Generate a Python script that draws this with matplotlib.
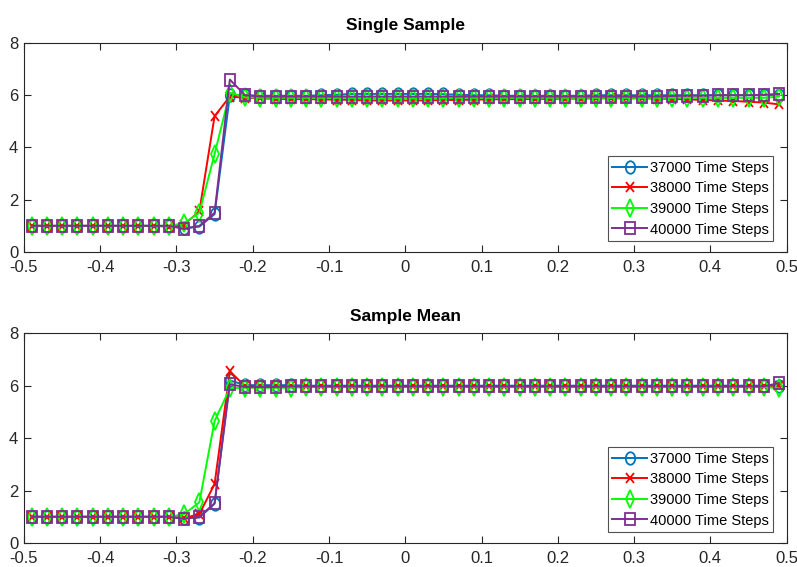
import numpy as np
import matplotlib
matplotlib.use("Agg")
import matplotlib.pyplot as plt
from matplotlib.markers import MarkerStyle
from matplotlib.transforms import Affine2D

plt.rcParams['font.family'] = ['Liberation Sans Narrow', 'Liberation Sans', 'DejaVu Sans']

x = [round(-0.49 + 0.02 * i, 2) for i in range(50)]

labels = ["37000 Time Steps", "38000 Time Steps", "39000 Time Steps", "40000 Time Steps"]
colors = ["#0072BD", "#FF0000", "#00FF00", "#7E2F8E"]
markers = ["o", "x", "d", "s"]

# Single sample
ss_37000 = [1.0]*10 + [0.92, 0.97, 1.45, 6.0, 6.0, 5.98, 5.98, 5.98, 5.98, 6.0,
            6.02, 6.05, 6.05, 6.05, 6.05, 6.05, 6.05, 6.04, 6.02, 6.0,
            6.0, 5.98, 5.98, 5.98, 5.98, 5.98, 5.98, 6.0, 6.0, 6.0,
            6.0, 6.0, 6.0, 6.0, 6.0, 6.0, 6.0, 6.0, 6.0, 6.02]
ss_38000 = [1.0]*9 + [0.97, 1.05, 1.55, 5.2, 5.95, 5.9, 5.88, 5.86, 5.85, 5.85, 5.84,
            5.83, 5.82, 5.8, 5.8, 5.8, 5.8, 5.8, 5.82, 5.82, 5.83,
            5.84, 5.85, 5.85, 5.86, 5.86, 5.87, 5.87, 5.88, 5.88, 5.88,
            5.88, 5.87, 5.86, 5.84, 5.82, 5.8, 5.78, 5.75, 5.72, 5.65]
ss_39000 = [1.0]*10 + [1.1, 1.5, 3.75, 6.1, 5.92, 5.9, 5.9, 5.9, 5.9, 5.9,
            5.9, 5.9, 5.88, 5.88, 5.88, 5.88, 5.88, 5.88, 5.9, 5.9,
            5.9, 5.9, 5.9, 5.9, 5.9, 5.9, 5.9, 5.9, 5.9, 5.9,
            5.9, 5.9, 5.9, 5.9, 5.9, 5.9, 5.9, 5.9, 5.9, 5.95]
ss_40000 = [1.0]*10 + [0.88, 1.0, 1.5, 6.6, 6.0, 5.95, 5.95, 5.95, 5.95, 5.95,
            5.95, 5.95, 5.95, 5.95, 5.95, 5.95, 5.95, 5.95, 5.95, 5.95,
            5.95, 5.95, 5.95, 5.95, 5.95, 5.95, 5.95, 5.95, 5.95, 5.95,
            5.95, 5.95, 5.97, 5.98, 5.98, 6.0, 6.0, 6.0, 6.02, 6.05]

# Sample mean
sm_37000 = [1.0]*10 + [0.95, 0.97, 1.5, 6.2, 6.02, 6.02, 6.02, 6.02, 6.0, 6.0,
            6.0, 6.0, 6.0, 6.0, 6.0, 6.0, 6.0, 6.0, 6.0, 6.0,
            6.0, 6.0, 6.0, 6.0, 6.0, 6.0, 6.0, 6.0, 6.0, 6.0,
            6.0, 6.0, 6.0, 6.0, 6.0, 6.0, 6.0, 6.0, 6.0, 6.0]
sm_38000 = [1.0]*10 + [0.95, 1.1, 2.25, 6.55, 5.98, 5.98, 5.98, 5.98, 5.98, 5.98,
            5.98, 5.98, 5.98, 5.98, 5.98, 5.98, 5.98, 5.98, 5.98, 5.98,
            5.98, 5.98, 5.98, 5.98, 5.98, 5.98, 5.98, 5.98, 5.98, 5.98,
            5.98, 5.98, 5.98, 5.98, 5.98, 5.98, 5.98, 5.98, 5.98, 6.0]
sm_39000 = [1.0]*10 + [1.1, 1.55, 4.65, 5.9, 5.92, 5.92, 5.92, 5.92, 5.95, 5.95,
            5.95, 5.95, 5.95, 5.95, 5.95, 5.95, 5.95, 5.95, 5.95, 5.95,
            5.95, 5.95, 5.95, 5.95, 5.95, 5.95, 5.95, 5.95, 5.95, 5.95,
            5.95, 5.95, 5.95, 5.95, 5.95, 5.95, 5.95, 5.95, 5.95, 5.9]
sm_40000 = [1.0]*10 + [0.92, 1.0, 1.52, 6.05, 5.95, 5.95, 5.95, 5.97, 5.97, 5.97,
            5.97, 5.97, 5.97, 5.97, 5.97, 5.97, 5.97, 5.97, 5.97, 5.97,
            5.97, 5.97, 5.97, 5.97, 5.97, 5.97, 5.97, 5.97, 5.97, 5.97,
            5.97, 5.97, 5.97, 5.97, 5.97, 5.97, 5.97, 5.97, 5.97, 6.1]

xticks = [-0.5, -0.4, -0.3, -0.2, -0.1, 0, 0.1, 0.2, 0.3, 0.4, 0.5]
xticklabels = ["-0.5", "-0.4", "-0.3", "-0.2", "-0.1", "0", "0.1", "0.2", "0.3", "0.4", "0.5"]
yticks = [0, 2, 4, 6, 8]

fig = plt.figure(figsize=(7.97, 5.67), dpi=100)
ax1 = fig.add_axes([0.030, 0.5556, 0.957, 0.3686])
ax2 = fig.add_axes([0.030, 0.0423, 0.957, 0.370])

panels = [(ax1, "Single Sample", [ss_37000, ss_38000, ss_39000, ss_40000]),
          (ax2, "Sample Mean", [sm_37000, sm_38000, sm_39000, sm_40000])]

sq = Affine2D().scale(0.75, 1.0)
for ax, title, series in panels:
    for ys, lab, c, m in zip(series, labels, colors, markers):
        ms = MarkerStyle(m, fillstyle='none', transform=sq)
        ax.plot(x, ys, color=c, marker=ms, markersize=9 if m != 'x' else 7.5,
                markerfacecolor='none', markeredgewidth=1.3, linewidth=1.4, label=lab)
    ax.set_xlim(-0.5, 0.5)
    ax.set_ylim(0, 8)
    ax.set_xticks(xticks)
    ax.set_xticklabels(xticklabels)
    ax.set_yticks(yticks)
    ax.tick_params(direction='in', top=True, right=True, labelsize=12, length=5,
                   width=0.8, color='#262626', labelcolor='#262626')
    ax.tick_params(axis='x', pad=6)
    ax.tick_params(axis='y', pad=4)
    for s in ax.spines.values():
        s.set_color('#262626')
        s.set_linewidth(0.8)
    ax.set_title(title, fontsize=12.5, fontweight='bold', pad=9)
    leg = ax.legend(loc='lower right', bbox_to_anchor=(0.982, 0.053), fontsize=10.5,
                    frameon=True, fancybox=False, edgecolor='#262626',
                    handlelength=2.4, handletextpad=0.15, borderpad=0.3,
                    labelspacing=0.45, borderaxespad=0)
    leg.get_frame().set_linewidth(0.8)

fig.savefig("out.png", dpi=100)
